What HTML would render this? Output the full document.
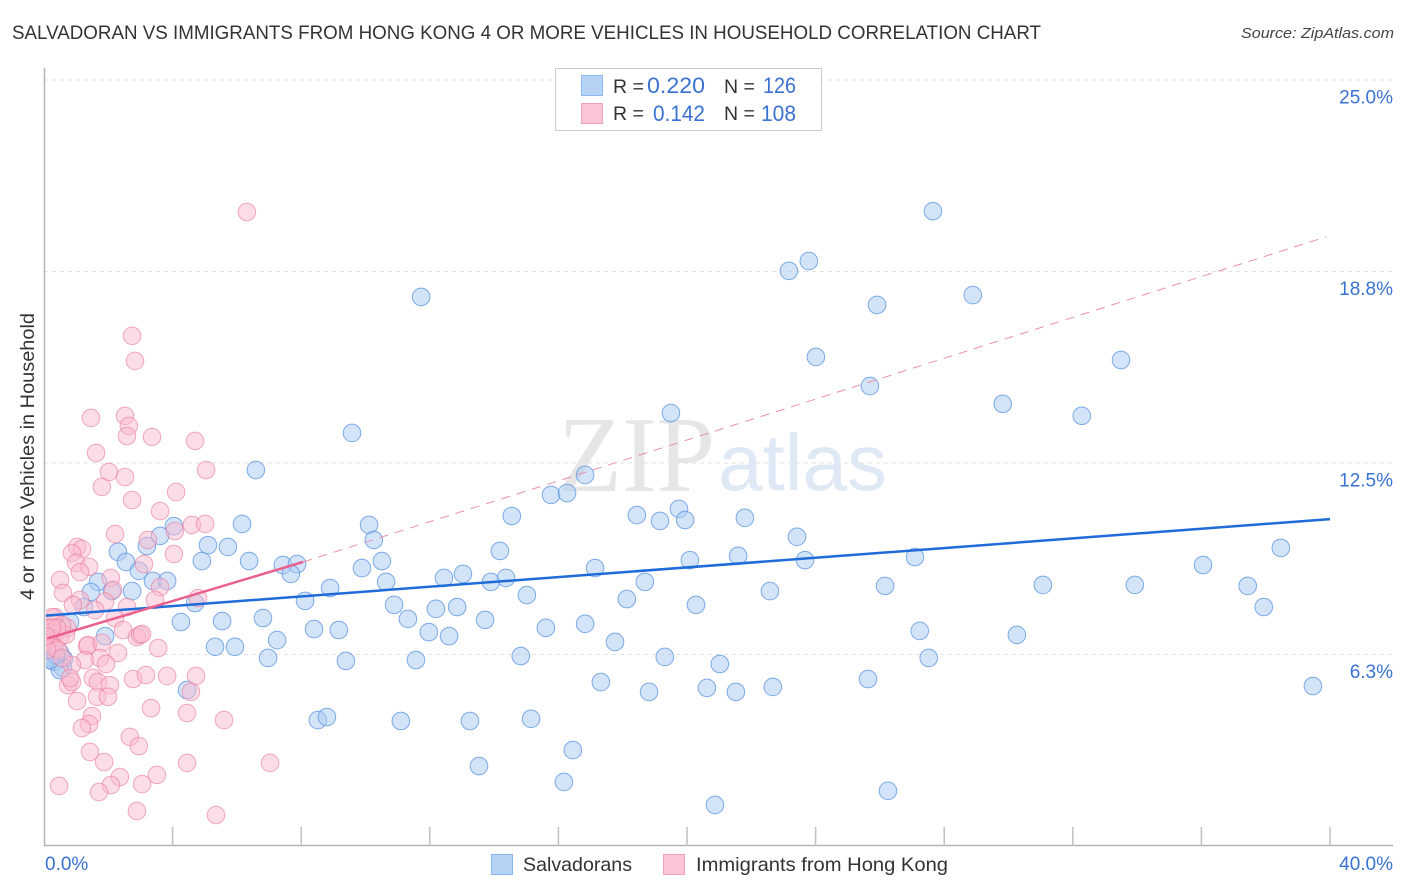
<!DOCTYPE html>
<html lang="en">
<head>
<meta charset="utf-8">
<title>Salvadoran vs Immigrants from Hong Kong correlation chart</title>
<style>
html,body{margin:0;padding:0;background:#fff}
svg{display:block;font-family:"Liberation Sans",sans-serif}
</style>
</head>
<body>
<svg id="chart" width="1406" height="892" viewBox="0 0 1406 892" xmlns="http://www.w3.org/2000/svg">
<defs><clipPath id="plot-clip"><rect x="46" y="60" width="1348" height="786"/></clipPath></defs>
<text x="12" y="39" font-size="19" fill="#333" textLength="1029" lengthAdjust="spacingAndGlyphs">SALVADORAN VS IMMIGRANTS FROM HONG KONG 4 OR MORE VEHICLES IN HOUSEHOLD CORRELATION CHART</text>
<text x="1394" y="38" font-size="15" font-style="italic" fill="#444" text-anchor="end" textLength="153" lengthAdjust="spacingAndGlyphs">Source: ZipAtlas.com</text>
<text transform="translate(34,456.5) rotate(-90)" font-size="19.5" fill="#333" text-anchor="middle" textLength="287" lengthAdjust="spacingAndGlyphs">4 or more Vehicles in Household</text>
<g id="grid"></g>
<g>
<text x="558" y="491" style="font-family:'Liberation Serif',serif" font-size="108" fill="#e6e6e6" textLength="157" lengthAdjust="spacingAndGlyphs">ZIP</text>
<text x="718" y="490" style="font-family:'Liberation Sans',sans-serif" font-size="80" fill="#dfe9f6" textLength="169" lengthAdjust="spacingAndGlyphs">atlas</text>
</g>
<g id="axes"></g>
<g id="points" clip-path="url(#plot-clip)"></g>
<g id="trends"></g>
<g>
<rect x="555.5" y="68.5" width="266" height="62" fill="#fff" stroke="#ccc"/>
<rect x="581.5" y="75.5" width="21" height="20" fill="#b6d2f5" stroke="#8db6ea"/>
<rect x="581.5" y="103.5" width="21" height="20" fill="#fcc5d6" stroke="#f2a2ba"/>
<text x="613" y="93" font-size="19.5" fill="#333">R =</text>
<text x="705" y="93" font-size="22" fill="#3a72d2" text-anchor="end" textLength="58" lengthAdjust="spacingAndGlyphs">0.220</text>
<text x="724" y="93" font-size="19.5" fill="#333">N =</text>
<text x="796" y="93" font-size="22" fill="#3a72d2" text-anchor="end" textLength="33" lengthAdjust="spacingAndGlyphs">126</text>
<text x="613" y="120" font-size="19.5" fill="#333">R =</text>
<text x="705" y="121" font-size="22" fill="#3a72d2" text-anchor="end" textLength="52" lengthAdjust="spacingAndGlyphs">0.142</text>
<text x="724" y="120" font-size="19.5" fill="#333">N =</text>
<text x="796" y="121" font-size="22" fill="#3a72d2" text-anchor="end" textLength="35" lengthAdjust="spacingAndGlyphs">108</text>
</g>
<g>
<rect x="491.5" y="854.5" width="21" height="20" fill="#b6d2f5" stroke="#8db6ea"/>
<text x="523" y="871" font-size="19.5" fill="#333" textLength="109" lengthAdjust="spacingAndGlyphs">Salvadorans</text>
<rect x="663.5" y="854.5" width="21" height="20" fill="#fcc5d6" stroke="#f2a2ba"/>
<text x="696" y="871" font-size="19.5" fill="#333" textLength="252" lengthAdjust="spacingAndGlyphs">Immigrants from Hong Kong</text>
</g>
</svg>
<script>
const yTickValues = [6.25, 12.5, 18.75, 25];
const yTickLabels = ["6.3%", "12.5%", "18.8%", "25.0%"];
const xTickValues = [0, 4, 8, 12, 16, 20, 24, 28, 32, 36, 40];
const xEdgeLabels = ["0.0%", "40.0%"];
const blueX = [27.65,23.79,23.17,11.73,28.89,25.91,24.01,33.50,25.69,29.82,19.50,32.28,9.58,6.59,16.83,15.77,16.27,19.75,18.44,19.16,19.94,14.55,21.80,6.16,4.04,10.11,23.42,3.61,10.26,3.20,2.30,5.10,5.72,14.18,38.47,21.59,20.09,23.67,27.09,2.55,4.91,6.38,7.43,7.87,10.51,9.89,36.05,17.14,2.95,7.68,12.44,13.03,13.90,14.37,3.39,3.83,1.68,10.64,18.69,26.16,31.07,33.93,37.44,8.90,2.74,1.46,2.11,15.02,22.58,8.12,18.13,20.28,4.70,10.89,12.19,12.85,1.24,37.94,11.32,13.72,4.26,5.54,6.81,0.81,15.61,16.83,8.40,9.17,11.97,12.60,27.24,30.26,1.90,7.25,17.76,5.32,5.94,0.50,0.25,0.62,14.83,6.97,9.39,11.57,19.31,27.52,21.02,0.31,0.59,0.50,17.32,25.63,39.47,4.45,18.82,20.62,21.52,22.67,8.52,8.80,11.10,13.25,15.15,16.45,13.53,16.17,26.25,20.87,0.37,0.19];
const blueY = [20.72,19.09,18.77,17.92,17.98,17.66,15.96,15.86,15.01,14.43,14.13,14.04,13.48,12.27,12.11,11.46,11.52,11.00,10.80,10.61,10.64,10.77,10.71,10.51,10.44,10.48,10.09,10.12,9.99,9.79,9.60,9.82,9.76,9.63,9.73,9.47,9.33,9.33,9.43,9.27,9.30,9.30,9.17,9.20,9.30,9.07,9.17,9.07,8.98,8.88,8.75,8.88,8.62,8.75,8.65,8.65,8.62,8.62,8.62,8.49,8.52,8.52,8.49,8.42,8.32,8.29,8.32,8.19,8.32,8.00,8.06,7.87,7.93,7.87,7.74,7.80,7.80,7.80,7.41,7.38,7.31,7.34,7.44,7.31,7.12,7.25,7.08,7.05,6.98,6.85,7.02,6.89,6.85,6.72,6.66,6.50,6.50,6.30,6.14,6.10,6.20,6.14,6.04,6.07,6.17,6.14,5.94,6.01,5.81,5.74,5.35,5.45,5.22,5.09,5.03,5.16,5.03,5.19,4.11,4.21,4.08,4.08,4.15,3.13,2.61,2.09,1.80,1.34,6.23,6.07];
const pinkX = [6.31,2.74,2.83,1.46,2.52,2.64,2.58,3.36,4.70,1.62,5.04,2.02,2.52,1.80,2.74,4.11,3.61,4.60,5.01,4.07,3.23,2.21,4.04,3.11,1.03,1.18,0.87,1.00,1.40,1.12,0.50,2.08,0.59,2.15,3.61,1.12,0.90,1.90,3.45,4.79,2.58,1.59,2.21,2.46,0.34,0.72,2.89,2.99,3.05,1.34,1.37,1.80,3.55,2.30,1.28,1.74,1.93,0.87,1.52,1.68,2.05,2.77,3.17,3.83,4.73,0.75,0.87,0.81,4.57,1.03,1.65,1.99,3.33,4.45,5.60,1.49,1.40,1.18,2.67,2.95,1.43,1.87,4.45,7.03,3.51,2.36,3.05,2.08,1.71,0.47,2.89,5.35,0.25,0.09,0.19,0.34,0.25,0.12,0.50,0.68,0.56,0.40,0.25,0.34,0.44,0.09,0.56,0.25,0.06];
const pinkY = [20.69,16.65,15.83,13.97,14.04,13.71,13.38,13.35,13.22,12.83,12.27,12.21,12.04,11.72,11.29,11.55,10.93,10.48,10.51,10.28,9.99,10.18,9.53,9.20,9.76,9.69,9.56,9.24,9.11,8.94,8.68,8.75,8.26,8.36,8.45,8.03,7.87,7.97,8.03,8.09,7.80,7.70,7.44,7.05,7.47,7.12,6.82,6.89,6.92,6.53,6.56,6.63,6.46,6.30,6.07,6.14,5.94,5.91,5.48,5.35,5.25,5.45,5.58,5.55,5.55,5.25,5.35,5.48,5.03,4.73,4.87,4.87,4.50,4.34,4.11,4.24,3.98,3.85,3.56,3.26,3.07,2.74,2.71,2.71,2.32,2.25,2.02,1.99,1.76,1.96,1.14,1.01,7.47,7.12,6.98,6.89,6.79,6.72,6.82,6.89,7.21,7.12,6.56,6.46,6.40,6.40,6.14,7.12,6.85];
const blueTrendX = [0.06, 40];
const blueTrendY = [7.52, 10.67];
const pinkSolidX = [0.1, 8.06];
const pinkSolidY = [6.77, 9.27];
const pinkDashX = [8.06, 39.88];
const pinkDashY = [9.27, 19.88];

const NS = "http://www.w3.org/2000/svg";
const xScale = function (v) { return 44 + v * 32.15; };
const yScale = function (v) { return 846 - v * 30.64; };

const grid = document.getElementById("grid");
const axes = document.getElementById("axes");
const points = document.getElementById("points");
const trends = document.getElementById("trends");

yTickValues.forEach(function (v, i) {
  const line = document.createElementNS(NS, "line");
  
  
  line.setAttribute("x1", 44);
  line.setAttribute("x2", 1393);
  line.setAttribute("y1", yScale(v));
  line.setAttribute("y2", yScale(v));
  line.setAttribute("stroke", "#e2e2e2");
  line.setAttribute("stroke-width", 1);
  line.setAttribute("stroke-dasharray", "4 4");
  grid.appendChild(line);
  const label = document.createElementNS(NS, "text");
  
  
  label.setAttribute("x", 1393);
  label.setAttribute("y", yScale(v) + 23.5);
  label.setAttribute("font-size", 19);
  label.setAttribute("fill", "#3a72d2");
  label.setAttribute("text-anchor", "end");
  label.textContent = yTickLabels[i];
  axes.appendChild(label);
});

const yAxis = document.createElementNS(NS, "line");


yAxis.setAttribute("x1", 44.5);
yAxis.setAttribute("x2", 44.5);
yAxis.setAttribute("y1", 68);
yAxis.setAttribute("y2", 846);
yAxis.setAttribute("stroke", "#b4b4b4");
yAxis.setAttribute("stroke-width", 1.5);
axes.appendChild(yAxis);

const xAxis = document.createElementNS(NS, "line");


xAxis.setAttribute("x1", 44);
xAxis.setAttribute("x2", 1393);
xAxis.setAttribute("y1", 845.5);
xAxis.setAttribute("y2", 845.5);
xAxis.setAttribute("stroke", "#b4b4b4");
xAxis.setAttribute("stroke-width", 1.5);
axes.appendChild(xAxis);

xTickValues.slice(1).forEach(function (v) {
  const tick = document.createElementNS(NS, "line");
  
  
  tick.setAttribute("x1", xScale(v));
  tick.setAttribute("x2", xScale(v));
  tick.setAttribute("y1", 827);
  tick.setAttribute("y2", 846);
  tick.setAttribute("stroke", "#c0c0c0");
  tick.setAttribute("stroke-width", 1.5);
  axes.appendChild(tick);
});

const xLabelStart = document.createElementNS(NS, "text");


xLabelStart.setAttribute("x", 45);
xLabelStart.setAttribute("y", 870);
xLabelStart.setAttribute("font-size", 19);
xLabelStart.setAttribute("fill", "#3a72d2");
xLabelStart.textContent = xEdgeLabels[0];
axes.appendChild(xLabelStart);

const xLabelEnd = document.createElementNS(NS, "text");


xLabelEnd.setAttribute("x", 1393);
xLabelEnd.setAttribute("y", 870);
xLabelEnd.setAttribute("font-size", 19);
xLabelEnd.setAttribute("fill", "#3a72d2");
xLabelEnd.setAttribute("text-anchor", "end");
xLabelEnd.textContent = xEdgeLabels[1];
axes.appendChild(xLabelEnd);

blueX.forEach(function (v, i) {
  const dot = document.createElementNS(NS, "circle");
  
  
  dot.setAttribute("cx", xScale(v));
  dot.setAttribute("cy", yScale(blueY[i]));
  dot.setAttribute("r", 8.8);
  dot.setAttribute("fill", "#a9c9f2");
  dot.setAttribute("fill-opacity", 0.5);
  dot.setAttribute("stroke", "#5f97e2");
  dot.setAttribute("stroke-opacity", 0.8);
  dot.setAttribute("stroke-width", 1);
  points.appendChild(dot);
});

pinkX.forEach(function (v, i) {
  const dot = document.createElementNS(NS, "circle");
  
  
  dot.setAttribute("cx", xScale(v));
  dot.setAttribute("cy", yScale(pinkY[i]));
  dot.setAttribute("r", 8.8);
  dot.setAttribute("fill", "#f9b9cd");
  dot.setAttribute("fill-opacity", 0.5);
  dot.setAttribute("stroke", "#ea7f9f");
  dot.setAttribute("stroke-opacity", 0.65);
  dot.setAttribute("stroke-width", 1);
  points.appendChild(dot);
});

const pinkDash = document.createElementNS(NS, "line");


pinkDash.setAttribute("x1", xScale(pinkDashX[0]));
pinkDash.setAttribute("y1", yScale(pinkDashY[0]));
pinkDash.setAttribute("x2", xScale(pinkDashX[1]));
pinkDash.setAttribute("y2", yScale(pinkDashY[1]));
pinkDash.setAttribute("stroke", "#ec8fab");
pinkDash.setAttribute("stroke-width", 1);
pinkDash.setAttribute("stroke-dasharray", "9 7");
trends.appendChild(pinkDash);

const blueTrend = document.createElementNS(NS, "line");


blueTrend.setAttribute("x1", xScale(blueTrendX[0]));
blueTrend.setAttribute("y1", yScale(blueTrendY[0]));
blueTrend.setAttribute("x2", xScale(blueTrendX[1]));
blueTrend.setAttribute("y2", yScale(blueTrendY[1]));
blueTrend.setAttribute("stroke", "#1f6cd8");
blueTrend.setAttribute("stroke-width", 2.5);
trends.appendChild(blueTrend);

const pinkSolid = document.createElementNS(NS, "line");


pinkSolid.setAttribute("x1", xScale(pinkSolidX[0]));
pinkSolid.setAttribute("y1", yScale(pinkSolidY[0]));
pinkSolid.setAttribute("x2", xScale(pinkSolidX[1]));
pinkSolid.setAttribute("y2", yScale(pinkSolidY[1]));
pinkSolid.setAttribute("stroke", "#ea5f8c");
pinkSolid.setAttribute("stroke-width", 2.5);
trends.appendChild(pinkSolid);
</script>
</body>
</html>
